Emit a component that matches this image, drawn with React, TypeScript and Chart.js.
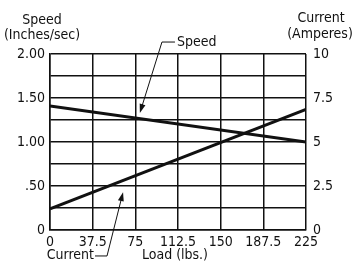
import React, { useEffect, useRef } from "react";
import { Chart, registerables } from "chart.js";

Chart.register(...registerables);

const loadLbs = [0, 225];
const speedInSec = [1.41, 1.0];
const currentAmps = [1.2, 6.85];
const xTicks = [0, 37.5, 75, 112.5, 150, 187.5, 225];

const FONT = "'Liberation Sans Narrow', 'DejaVu Sans Condensed', Arial, sans-serif";
const INK = "#111";

function arrow(ctx: CanvasRenderingContext2D, x1: number, y1: number, x2: number, y2: number) {
  const ang = Math.atan2(y2 - y1, x2 - x1);
  const len = 9, w = 3;
  ctx.beginPath();
  ctx.moveTo(x1, y1);
  ctx.lineTo(x2 - len * 0.6 * Math.cos(ang), y2 - len * 0.6 * Math.sin(ang));
  ctx.stroke();
  ctx.beginPath();
  ctx.moveTo(x2, y2);
  ctx.lineTo(x2 - len * Math.cos(ang) - w * Math.sin(ang), y2 - len * Math.sin(ang) + w * Math.cos(ang));
  ctx.lineTo(x2 - len * Math.cos(ang) + w * Math.sin(ang), y2 - len * Math.sin(ang) - w * Math.cos(ang));
  ctx.closePath();
  ctx.fill();
}

const annotations = {
  id: "annotations",
  afterDraw(chart: any) {
    const { ctx, chartArea } = chart;
    const xs = chart.scales.x, ys = chart.scales.y;
    ctx.save();
    ctx.fillStyle = INK;
    ctx.strokeStyle = INK;
    ctx.font = `14px ${FONT}`;
    ctx.textBaseline = "middle";
    ctx.textAlign = "center";
    // axis titles
    ctx.fillText("Speed", 42, 20);
    ctx.fillText("(Inches/sec)", 42, 35);
    ctx.fillText("Current", 321, 18);
    ctx.fillText("(Amperes)", 320, 34);
    ctx.fillText("Load (lbs.)", (chartArea.left + chartArea.right) / 2 - 3, 255);
    // Speed callout
    ctx.lineWidth = 1;
    const sTailX = xs.getPixelForValue(98.4), sTailY = ys.getPixelForValue(2.136);
    const sTipX = xs.getPixelForValue(79), sTipY = ys.getPixelForValue(1.33);
    ctx.beginPath();
    ctx.moveTo(sTailX, sTailY);
    ctx.lineTo(sTailX + 13, sTailY);
    ctx.stroke();
    arrow(ctx, sTailX, sTailY, sTipX, sTipY);
    ctx.textAlign = "left";
    ctx.fillText("Speed", sTailX + 15, sTailY);
    // Current callout
    const cTailX = xs.getPixelForValue(50.1), cTailY = ys.getPixelForValue(-0.295);
    const cTipX = xs.getPixelForValue(64.2), cTipY = ys.getPixelForValue(0.43);
    ctx.beginPath();
    ctx.moveTo(cTailX, cTailY);
    ctx.lineTo(cTailX - 12, cTailY);
    ctx.stroke();
    arrow(ctx, cTailX, cTailY, cTipX, cTipY);
    ctx.textAlign = "right";
    ctx.fillText("Current", cTailX - 13, cTailY - 1);
    ctx.restore();
  },
};

export default function App() {
  const ref = useRef<HTMLCanvasElement>(null);
  useEffect(() => {
    if (!ref.current) return;
    const chart = new Chart(ref.current, {
      type: "line",
      data: {
        datasets: [
          {
            label: "Speed",
            data: loadLbs.map((x, i) => ({ x, y: speedInSec[i] })),
            yAxisID: "y",
            borderColor: INK,
            borderWidth: 3,
            pointRadius: 0,
          },
          {
            label: "Current",
            data: loadLbs.map((x, i) => ({ x, y: currentAmps[i] })),
            yAxisID: "y2",
            borderColor: INK,
            borderWidth: 3,
            pointRadius: 0,
          },
        ],
      },
      options: {
        animation: false,
        responsive: false,
        layout: { padding: { top: 54, left: 0, right: 0, bottom: 0 } },
        plugins: { legend: { display: false }, tooltip: { enabled: false }, title: { display: false } },
        scales: {
          x: {
            type: "linear",
            min: 0,
            max: 225,
            afterBuildTicks: (s: any) => { s.ticks = xTicks.map((v) => ({ value: v })); },
            afterFit: (s: any) => { s.height = 34; },
            grid: { color: INK, lineWidth: 1.5, drawTicks: false },
            border: { color: INK, width: 1.5 },
            ticks: {
              color: INK,
              font: { family: FONT, size: 14 },
              padding: 4,
              maxRotation: 0,
              autoSkip: false,
              callback: (v: any) => String(v),
            },
          },
          y: {
            position: "left",
            min: 0,
            max: 2,
            afterFit: (s: any) => { s.width = 50; },
            grid: { color: INK, lineWidth: 1.5, drawTicks: false },
            border: { color: INK, width: 1.5 },
            ticks: {
              stepSize: 0.25,
              color: INK,
              font: { family: FONT, size: 14 },
              padding: 5,
              callback: (v: any) => {
                if (Math.abs(v * 2 - Math.round(v * 2)) > 1e-6) return "";
                if (v === 0) return "0";
                const s = Number(v).toFixed(2);
                return v < 1 ? s.slice(1) : s;
              },
            },
          },
          y2: {
            position: "right",
            min: 0,
            max: 10,
            afterFit: (s: any) => { s.width = 46; },
            grid: { display: false, drawTicks: false },
            border: { display: false },
            ticks: {
              stepSize: 2.5,
              color: INK,
              font: { family: FONT, size: 14 },
              padding: 7,
              callback: (v: any) => String(v),
            },
          },
        },
      },
      plugins: [annotations],
    });
    return () => chart.destroy();
  }, []);
  return (
    <div style={{ position: "fixed", left: 0, top: 0, width: 352, height: 264, background: "#fff" }}>
      <canvas ref={ref} width={352} height={264} style={{ width: 352, height: 264 }} />
    </div>
  );
}
